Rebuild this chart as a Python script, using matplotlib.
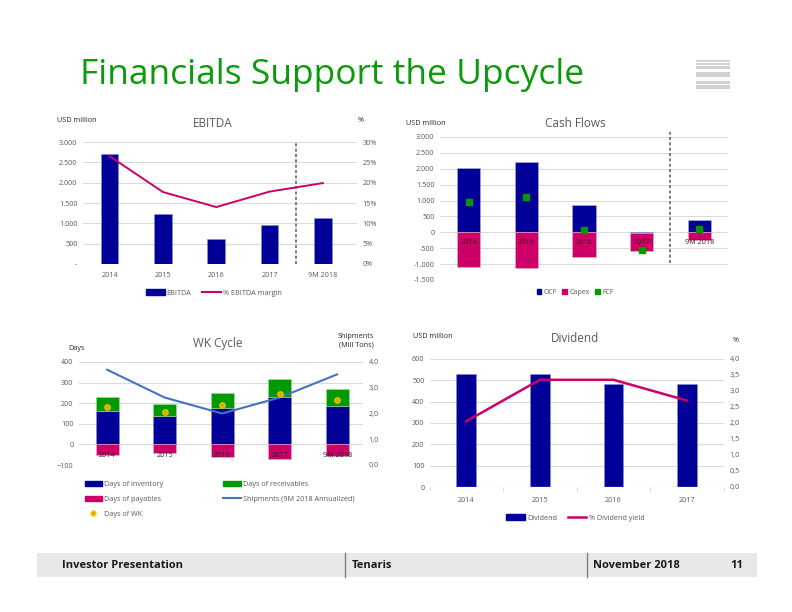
import matplotlib
matplotlib.use("Agg")
import matplotlib.pyplot as plt
import matplotlib.patches as mpatches
from matplotlib.lines import Line2D
from matplotlib.ticker import FixedLocator

plt.rcParams['font.family'] = ['Open Sans', 'DejaVu Sans']

# ── Data ──────────────────────────────────────────────────────
ebitda_years   = ["2014", "2015", "2016", "2017", "9M 2018"]
ebitda_values  = [2700, 1220, 610, 950, 1120]
ebitda_margin  = [26.5, 17.7, 14.0, 17.8, 19.9]

cf_years       = ["2014", "2015", "2016", "2017", "9M 2018"]
cf_ocf         = [2030, 2210, 860, -20, 380]
cf_capex       = [-1090, -1130, -780, -560, -250]
cf_fcf         = [960, 1100, 80, -570, 110]

wk_years       = ["2014", "2015", "2016", "2017", "9M 2018"]
wk_inventory   = [160, 137, 175, 232, 187]
wk_receivables = [70, 58, 75, 86, 83]
wk_payables    = [-50, -40, -62, -72, -57]
wk_days        = [180, 155, 189, 247, 214]
wk_shipments   = [3.70, 2.62, 2.00, 2.62, 3.52]

div_years      = ["2014", "2015", "2016", "2017"]
div_values     = [531, 531, 484, 484]
div_yield      = [2.05, 3.35, 3.35, 2.70]

# ── Style ─────────────────────────────────────────────────────
NAVY   = "#000099"
PINK   = "#CC0066"
GREEN  = "#009900"
BLUE   = "#4472C4"
GRID   = "#D9D9D9"
TICK   = "#595959"
TXT    = "#262626"
W, H   = 792, 612

fig = plt.figure(figsize=(W / 100, H / 100), dpi=100)


def px_axes(x0, y0, x1, y1):
    """Axes placed by pixel box (top-left origin)."""
    return fig.add_axes([x0 / W, 1 - y1 / H, (x1 - x0) / W, (y1 - y0) / H])


def eu_int(v):
    s = f"{abs(int(round(v))):,}".replace(",", ".")
    return ("-" + s) if v < 0 else s


def style_axes(ax, twin=None):
    for sp in ax.spines.values():
        sp.set_visible(False)
    ax.grid(axis="y", color=GRID, lw=0.7)
    ax.set_axisbelow(True)
    ax.tick_params(length=0, labelsize=5.2, colors=TICK, pad=4)
    if twin is not None:
        for sp in twin.spines.values():
            sp.set_visible(False)
        twin.tick_params(length=0, labelsize=5.2, colors=TICK, pad=4)


def small(x, y, s, **kw):
    kw.setdefault("fontsize", 5.2)
    kw.setdefault("color", TXT)
    fig.text(x / W, 1 - y / H, s, **kw)


# ── Title and logo ────────────────────────────────────────────
fig.text(80 / W, 1 - 75 / H, "Financials Support the Upcycle", fontsize=25.5,
         color="#0A9A0A", va="center", ha="left")
for y0, h in [(60, 2), (63, 2), (66, 3), (72, 5), (81, 3), (85, 4)]:
    fig.patches.append(mpatches.Rectangle((696 / W, 1 - (y0 + h) / H), 34 / W, h / H,
                                          transform=fig.transFigure, color="#D0D0D0", lw=0))

# ── EBITDA ────────────────────────────────────────────────────
ax = px_axes(83, 142, 357, 264)
x = range(len(ebitda_years))
ax.bar(x, ebitda_values, width=0.33, color=NAVY, edgecolor="#8C8CD0", lw=0.4,
       label="EBITDA")
ax.set_ylim(0, 3000)
ax.set_xlim(-0.5, 4.64)
ax.set_yticks(range(0, 3001, 500))
ax.set_yticklabels(["-"] + [eu_int(v) for v in range(500, 3001, 500)])
ax.set_xticks(list(x))
ax.set_xticklabels(ebitda_years)
ax.plot([3.5, 3.5], [0, 3000], color="#595959", ls=(0, (2, 1.5)), lw=1.1)
ax2 = ax.twinx()
ax2.plot(x, ebitda_margin, color=PINK, lw=1.4, label="% EBITDA margin")
ax2.set_ylim(0, 30)
ax2.set_yticks(range(0, 31, 5))
ax2.set_yticklabels([f"{v}%" for v in range(0, 31, 5)])
style_axes(ax, ax2)
ax.tick_params(axis="x", pad=6)
small(57, 120, "USD million", va="center")
small(358, 120, "%", va="center")
fig.text(213 / W, 1 - 124 / H, "EBITDA", fontsize=8.5, color=TICK, ha="center", va="center")
fig.legend(handles=[mpatches.Patch(color=NAVY, label="EBITDA"),
                    Line2D([], [], color=PINK, lw=1.5, label="% EBITDA margin")],
           loc="center", bbox_to_anchor=(214 / W, 1 - 293 / H), ncol=2, frameon=False,
           fontsize=5.2, handlelength=2.6, handleheight=0.8, columnspacing=1.5,
           handletextpad=0.3, labelcolor=TICK)

# ── Cash Flows ────────────────────────────────────────────────
ax = px_axes(440, 137, 728, 280)
x = range(len(cf_years))
ax.bar(x, cf_ocf, width=0.4, color=NAVY, edgecolor="#B0B0E0", lw=0.4)
ax.bar(x, cf_capex, width=0.4, bottom=[min(v, 0) for v in cf_ocf], color=PINK,
       edgecolor="#F0B0D0", lw=0.4)
ax.plot(x, cf_fcf, ls="none", marker="s", ms=5, color=GREEN)
ax.set_ylim(-1500, 3000)
ax.set_xlim(-0.5, 4.5)
ax.set_yticks(range(-1500, 3001, 500))
ax.set_yticklabels([eu_int(v) for v in range(-1500, 3001, 500)])
ax.set_xticks([])
for i, lab in enumerate(cf_years):
    ax.text(i, -330, lab, ha="center", va="center", fontsize=5.2, color=TXT)
ax.plot([3.5, 3.5], [-980, 3150], color="#595959", ls=(0, (2, 1.5)), lw=1.1, clip_on=False)
style_axes(ax)
small(406, 124, "USD million", va="center")
fig.text(575 / W, 1 - 124 / H, "Cash Flows", fontsize=8.5, color=TICK, ha="center", va="center")
fig.legend(handles=[mpatches.Patch(color=NAVY, label="OCF"),
                    mpatches.Patch(color=PINK, label="Capex"),
                    mpatches.Patch(color=GREEN, label="FCF")],
           loc="center", bbox_to_anchor=(575 / W, 1 - 292 / H), ncol=3, frameon=False,
           fontsize=5.0, handlelength=0.7, handleheight=0.7, columnspacing=0.8,
           handletextpad=0.3, labelcolor=TICK)

# ── WK Cycle ──────────────────────────────────────────────────
ax = px_axes(79, 362, 363, 465)
x = range(len(wk_years))
ax.bar(x, wk_inventory, width=0.4, color=NAVY, edgecolor="#8C8CD0", lw=0.4,
       label="Days of inventory")
ax.bar(x, wk_receivables, width=0.4, bottom=wk_inventory, color=GREEN,
       edgecolor="#A0E0A0", lw=0.4, label="Days of receivables")
ax.bar(x, wk_payables, width=0.4, color=PINK, edgecolor="#F0B0D0", lw=0.4,
       label="Days of payables")
ax.set_ylim(-100, 400)
ax.set_xlim(-0.49, 4.45)
ax.set_yticks(range(-100, 401, 100))
ax.set_xticks([])
for i, lab in enumerate(wk_years):
    ax.text(i, -55, lab, ha="center", va="center", fontsize=5.2, color=TXT)
ax2 = ax.twinx()
ax2.plot(x, wk_shipments, color=BLUE, lw=1.5, label="Shipments (9M 2018 Annualized)")
ax2.plot(x, [(d + 100) / 125 for d in wk_days], ls="none", marker="o", ms=4,
         mfc="#C8B400", mec="#FFC000", mew=0.8, label="Days of WK")
ax2.set_ylim(0, 4)
ax2.set_yticks(range(0, 5))
ax2.set_yticklabels([f"{v},0" for v in range(0, 5)])
style_axes(ax, ax2)
small(68, 348, "Days", va="center")
small(374, 341, "Shipments\n(Mill Tons)", va="center", ha="right", linespacing=1.3)
fig.text(218 / W, 1 - 343 / H, "WK Cycle", fontsize=8.5, color=TICK, ha="center", va="center")
fig.legend(handles=[mpatches.Patch(color=NAVY, label="Days of inventory"),
                    mpatches.Patch(color=PINK, label="Days of payables"),
                    Line2D([], [], ls="none", marker="o", ms=3.5, mfc="#C8B400", mec="#FFC000",
                           label="Days of WK"),
                    mpatches.Patch(color=GREEN, label="Days of receivables"),
                    Line2D([], [], color=BLUE, lw=1.5, label="Shipments (9M 2018 Annualized)")],
           loc="upper left", bbox_to_anchor=(78 / W, 1 - 474 / H), ncol=2, frameon=False,
           fontsize=5.2, handlelength=2.4, handleheight=0.7, columnspacing=8.3,
           handletextpad=0.3, labelspacing=1.1, labelcolor=TICK)

# ── Dividend ──────────────────────────────────────────────────
ax = px_axes(430, 359, 724, 487)
x = range(len(div_years))
ax.bar(x, div_values, width=0.27, color=NAVY, edgecolor="#8C8CD0", lw=0.4)
ax.set_ylim(0, 600)
ax.set_xlim(-0.49, 3.5)
ax.set_yticks(range(0, 601, 100))
ax.set_xticks(list(x))
ax.set_xticklabels(div_years)
ax.xaxis.set_minor_locator(FixedLocator([-0.49, 0.5, 1.5, 2.5, 3.5]))
ax.tick_params(axis="x", which="minor", length=3, color=GRID, width=0.7)
ax2 = ax.twinx()
ax2.plot(x, div_yield, color=PINK, lw=1.8)
ax2.set_ylim(0, 4)
ax2.set_yticks([v / 2 for v in range(0, 9)])
ax2.set_yticklabels([f"{v / 2:.1f}".replace(".", ",") for v in range(0, 9)])
style_axes(ax, ax2)
ax.tick_params(axis="x", pad=7)
ax.axhline(0, color=GRID, lw=0.9)
small(413, 336, "USD million", va="center")
small(733, 340, "%", va="center")
fig.text(575 / W, 1 - 339 / H, "Dividend", fontsize=8.5, color=TICK, ha="center", va="center")
fig.legend(handles=[mpatches.Patch(color=NAVY, label="Dividend"),
                    Line2D([], [], color=PINK, lw=1.8, label="% Dividend yield")],
           loc="center", bbox_to_anchor=(575 / W, 1 - 518 / H), ncol=2, frameon=False,
           fontsize=5.2, handlelength=2.6, handleheight=0.8, columnspacing=1.5,
           handletextpad=0.3, labelcolor=TICK)

# ── Footer ────────────────────────────────────────────────────
fig.patches.append(mpatches.Rectangle((37 / W, 1 - 577 / H), 720 / W, 24 / H,
                                      transform=fig.transFigure, color="#E8E8E8", lw=0))
for xs in (345, 587):
    fig.add_artist(Line2D([xs / W, xs / W], [1 - 577 / H, 1 - 553 / H],
                          transform=fig.transFigure, color="#808080", lw=1))
for xs, s, ha in [(62, "Investor Presentation", "left"), (352, "Tenaris", "left"),
                  (593, "November 2018", "left"), (743, "11", "right")]:
    fig.text(xs / W, 1 - 565 / H, s, fontsize=8, fontweight="bold", color="#1A1A1A",
             ha=ha, va="center")

fig.savefig("out.png", dpi=100)
